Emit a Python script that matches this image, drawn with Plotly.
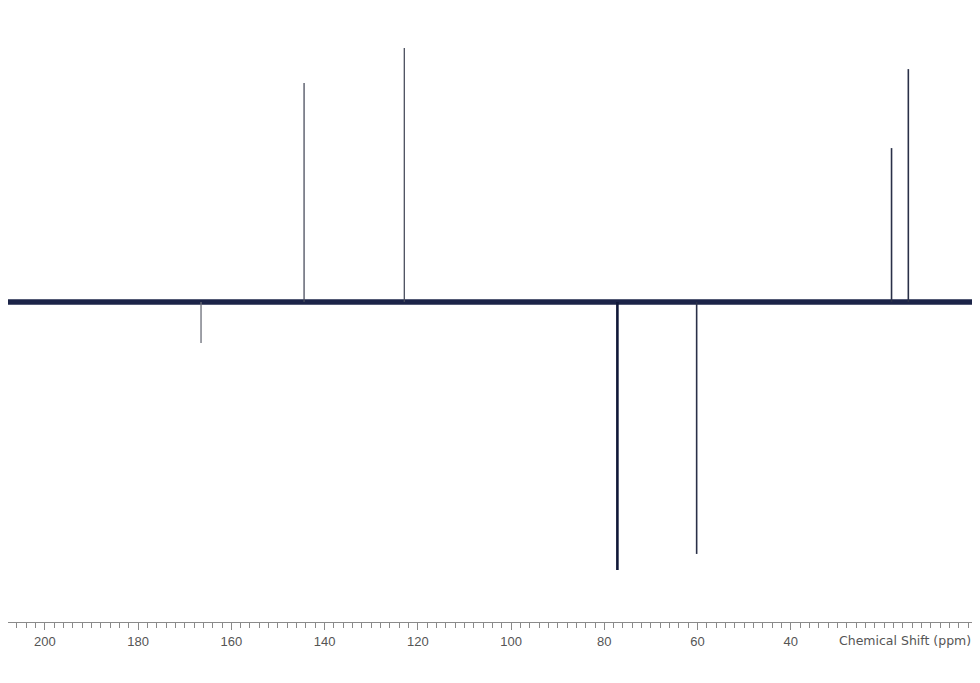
import plotly.graph_objects as go

# Peak data (chemical shift in ppm, relative intensity)
peak_ppm = [166.5, 144.4, 122.9, 77.2, 60.2, 18.4, 14.8]
peak_int = [-16.1, 86.2, 100.0, -105.5, -99.2, 60.6, 91.7]
peak_width = [1.3, 1.3, 1.3, 2.6, 1.6, 1.6, 1.6]
peak_color = ["#6a6d78", "#4a4e5e", "#4a4e5e", "#101838", "#2a3048", "#2a3048", "#2a3048"]

baseline_ppm = [207.9, 0.5]
baseline_int = [0.0, 0.0]

tick_vals = [200, 180, 160, 140, 120, 100, 80, 60, 40]
tick_text = [str(v) for v in tick_vals]

fig = go.Figure()

# baseline (noise band)
fig.add_trace(go.Scatter(x=baseline_ppm, y=baseline_int, mode="lines",
                         line=dict(color="#1c2448", width=5.5),
                         hoverinfo="skip", showlegend=False))

for p, h, w, c in zip(peak_ppm, peak_int, peak_width, peak_color):
    fig.add_trace(go.Scatter(x=[p, p], y=[0, h], mode="lines",
                             line=dict(color=c, width=w),
                             showlegend=False))

fig.update_layout(
    width=970, height=667,
    margin=dict(l=0, r=3, t=22, b=53),
    paper_bgcolor="white", plot_bgcolor="white",
    xaxis=dict(range=[207.9, 0.5], showgrid=False, zeroline=False,
               showline=True, linecolor="#8a8a8a", linewidth=1,
               ticks="outside", ticklen=7, tickcolor="#8a8a8a",
               tickvals=tick_vals, ticktext=tick_text,
               tickfont=dict(family="Arial, Liberation Sans", size=13, color="#555555"),
               minor=dict(dtick=2, ticks="outside", ticklen=5, tickcolor="#8a8a8a", showgrid=False)),
    yaxis=dict(range=[-126, 107.1], visible=False, showgrid=False, zeroline=False),
)

fig.add_annotation(text="Chemical Shift (ppm)", xref="paper", yref="paper",
                   x=0.998, y=0, xanchor="right", yanchor="top", yshift=-9,
                   showarrow=False,
                   font=dict(family="DejaVu Sans", size=12.5, color="#555555"))

fig.write_html("out.html")
